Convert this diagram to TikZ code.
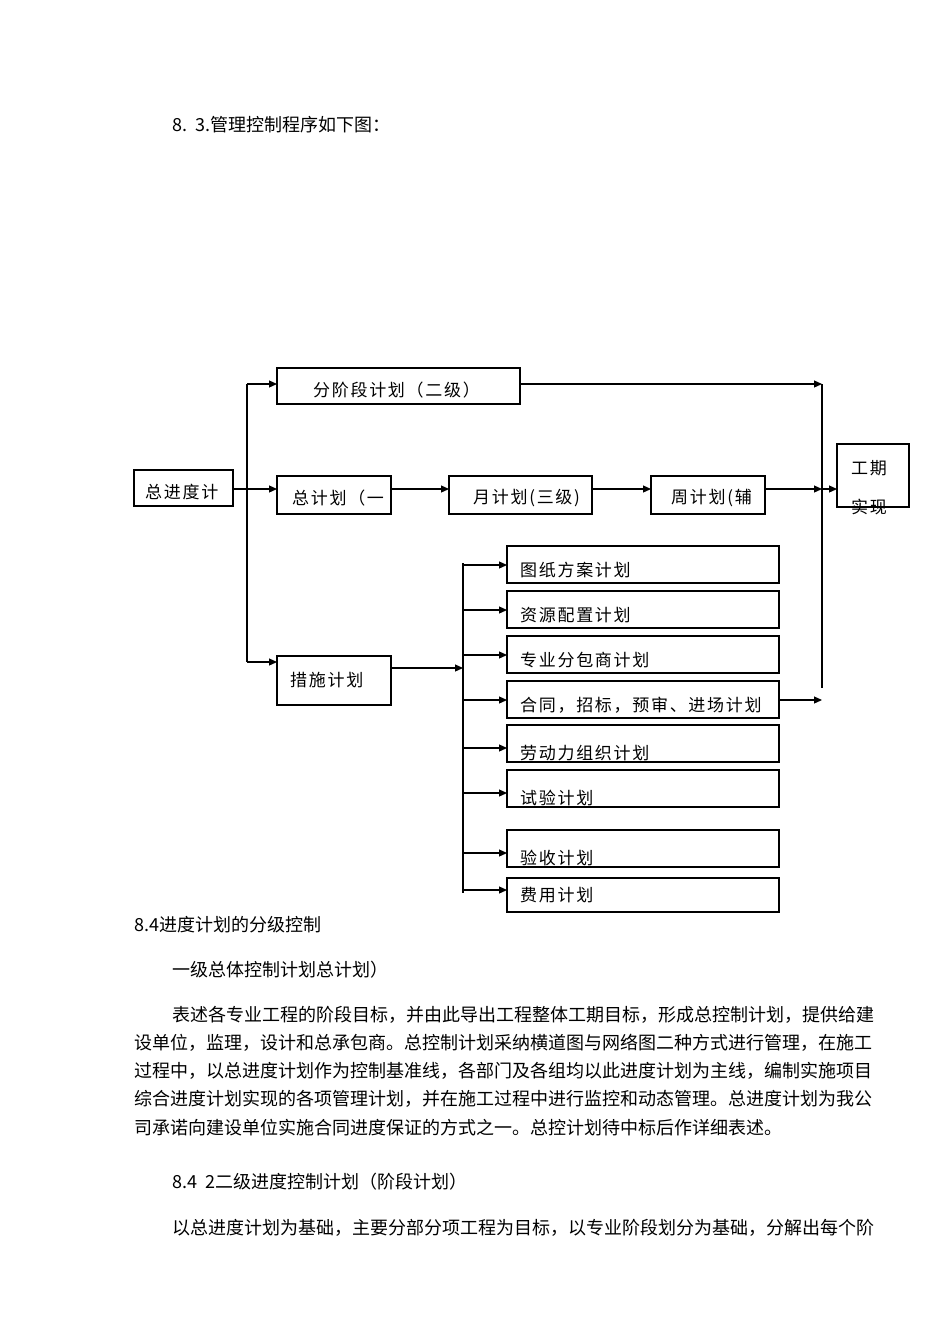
\documentclass[tikz,border=0pt]{standalone}
\usepackage{fontspec}
\setmainfont{Noto Sans CJK SC}
\usetikzlibrary{arrows.meta}
\begin{document}
\begin{tikzpicture}[x=1pt,y=-1pt,
  bx/.style={draw,line width=1.2pt,inner sep=0pt},
  ar/.style={line width=1.2pt,-{Triangle[length=8pt,width=7pt]}},
  ln/.style={line width=1.2pt},
  tx/.style={font=\fontsize{17}{19}\selectfont\addfontfeature{LetterSpace=10},anchor=west,inner sep=0pt},
  bt/.style={font=\fontsize{18}{20}\selectfont,anchor=base west,inner sep=0pt}]
\useasboundingbox (0,0) rectangle (950,1344);
\node[bt] (title) at (172,131) {8.\ \ 3.管理控制程序如下图：};
% boxes
\draw[bx] (277,368) rectangle (520,404); \node[tx] (b1) at (313,390) {分阶段计划（二级）};
\draw[bx] (134,470) rectangle (233,506); \node[tx] (b0) at (145,492) {总进度计};
\draw[bx] (277,476) rectangle (391,514); \node[tx] (b2) at (292,498) {总计划（一};
\draw[bx] (449,476) rectangle (592,514); \node[tx] (b3) at (473,498) {月计划(三级)};
\draw[bx] (651,476) rectangle (765,514); \node[tx] (b4) at (671,498) {周计划(辅};
\draw[bx] (837,444) rectangle (909,507);
\node[tx] (gq) at (851,468) {工期}; \node[tx] (sx) at (851,507) {实现};
\draw[bx] (277,656) rectangle (391,705); \node[tx] (cs) at (290,680) {措施计划};
% main connectors
\draw[ln] (233,489) -- (247,489);
\draw[ln] (247,384) -- (247,662);
\draw[ar] (247,384) -- (277,384);
\draw[ar] (247,489) -- (277,489);
\draw[ar] (247,662) -- (277,662);
\draw[ar] (391,489) -- (449,489);
\draw[ar] (592,489) -- (651,489);
\draw[ar] (765,489) -- (822,489);
\draw[ar] (822,489) -- (837,489);
\draw[ar] (520,384) -- (822,384);
\draw[ln] (822,384) -- (822,688);
\draw[ar] (391,668) -- (463,668);
\draw[ln] (463,563) -- (463,893);
% sub boxes
\foreach \t/\b/\a/\s in {546/583/565/图纸方案计划,591/628/610/资源配置计划,636/673/655/专业分包商计划,681/718/700/合同，招标，预审、进场计划,725/762/748/劳动力组织计划,770/807/793/试验计划,830/867/853/验收计划,878/912/890/费用计划}{
  \draw[bx] (507,\t) rectangle (779,\b);
  \node[tx] at (520,\a+5) {\s};
  \draw[ar] (463,\a) -- (507,\a);
}
\draw[ar] (779,700) -- (822,700);
% body text
\node[bt] at (134,931) {8.4进度计划的分级控制};
\node[bt] at (172,976) {一级总体控制计划总计划）};
\node[bt] at (172,1021) {表述各专业工程的阶段目标，并由此导出工程整体工期目标，形成总控制计划，提供给建};
\node[bt] at (134,1049) {设单位，监理，设计和总承包商。总控制计划采纳横道图与网络图二种方式进行管理，在施工};
\node[bt] at (134,1077) {过程中，以总进度计划作为控制基准线，各部门及各组均以此进度计划为主线，编制实施项目};
\node[bt] at (134,1105) {综合进度计划实现的各项管理计划，并在施工过程中进行监控和动态管理。总进度计划为我公};
\node[bt] at (134,1134) {司承诺向建设单位实施合同进度保证的方式之一。总控计划待中标后作详细表述。};
\node[bt] at (172,1188) {8.4\ \ 2二级进度控制计划（阶段计划）};
\node[bt] at (172,1234) {以总进度计划为基础，主要分部分项工程为目标，以专业阶段划分为基础，分解出每个阶};
\end{tikzpicture}
\end{document}
